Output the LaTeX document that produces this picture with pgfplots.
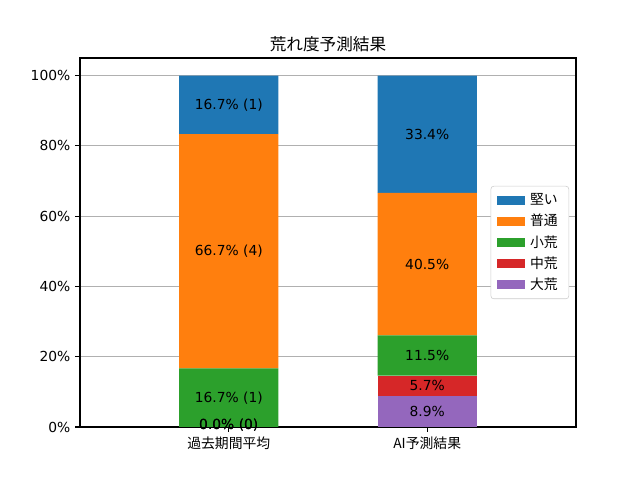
\documentclass[border=0pt]{standalone}
\usepackage{fontspec}
\setmainfont{DejaVu Sans}
\newfontfamily\cjk{Noto Sans CJK JP}
\usepackage{pgfplots}
\pgfplotsset{compat=1.18}
\definecolor{tabblue}{HTML}{1F77B4}
\definecolor{taborange}{HTML}{FF7F0E}
\definecolor{tabgreen}{HTML}{2CA02C}
\definecolor{tabred}{HTML}{D62728}
\definecolor{tabpurple}{HTML}{9467BD}
\begin{document}
\fontsize{10}{12}\selectfont
\begin{tikzpicture}
\path (0,0) rectangle (6.4in,4.8in);
\begin{axis}[
  at={(0.8in,0.53in)}, anchor=south west,
  scale only axis, width=4.96in, height=3.69in,
  xmin=-0.75, xmax=1.75, ymin=0, ymax=105,
  ybar stacked, bar width=0.5,
  xtick={0,1},
  xticklabels={{\cjk 過去期間平均},{\cjk AI予測結果}},
  ytick={0,20,40,60,80,100},
  yticklabels={0\%,20\%,40\%,60\%,80\%,100\%},
  tick align=outside, major tick length=3.5pt,
  tick style={black, line width=0.8pt},
  xtick pos=bottom, ytick pos=left,
  ymajorgrids, grid style={color=black!31, line width=0.8pt},
  axis line style={line width=0.8pt},
  ticklabel style={font=\fontsize{10}{12}\selectfont},
  title={\cjk 荒れ度予測結果},
  title style={font=\fontsize{12}{14}\selectfont, yshift=-5pt},
  reverse legend,
  legend style={at={(0.986,0.5)}, anchor=east, draw=black!20, rounded corners=2pt,
    font=\fontsize{10}{12}\selectfont, row sep=1.3pt, inner xsep=4pt, inner ysep=3.5pt,
    nodes={inner xsep=4pt}},
  legend cell align=left,
  legend image code/.code={\fill[#1, sharp corners] (0in,-0.045in) rectangle (0.28in,0.045in);},
]
\addplot[fill=tabpurple, draw=none] coordinates {(0,0) (1,8.9)};
\addplot[fill=tabred, draw=none] coordinates {(0,0) (1,5.7)};
\addplot[fill=tabgreen, draw=none] coordinates {(0,16.67) (1,11.5)};
\addplot[fill=taborange, draw=none] coordinates {(0,66.67) (1,40.5)};
\addplot[fill=tabblue, draw=none] coordinates {(0,16.67) (1,33.4)};
\legend{{\cjk 大荒},{\cjk 中荒},{\cjk 小荒},{\cjk 普通},{\cjk 堅い}}
\coordinate (a0) at (axis cs:0,0);
\coordinate (a1) at (axis cs:0,8.33);
\coordinate (a2) at (axis cs:0,50);
\coordinate (a3) at (axis cs:0,91.67);
\coordinate (b1) at (axis cs:1,4.45);
\coordinate (b2) at (axis cs:1,11.75);
\coordinate (b3) at (axis cs:1,20.35);
\coordinate (b4) at (axis cs:1,46.35);
\coordinate (b5) at (axis cs:1,83.3);
\end{axis}
\node[yshift=1pt] at (a0) {0.0\% (0)};
\node[yshift=1pt] at (a0) {0.0\% (0)};
\node at (a1) {16.7\% (1)};
\node at (a2) {66.7\% (4)};
\node at (a3) {16.7\% (1)};
\node at (b1) {8.9\%};
\node at (b2) {5.7\%};
\node at (b3) {11.5\%};
\node at (b4) {40.5\%};
\node at (b5) {33.4\%};
\end{tikzpicture}
\end{document}
